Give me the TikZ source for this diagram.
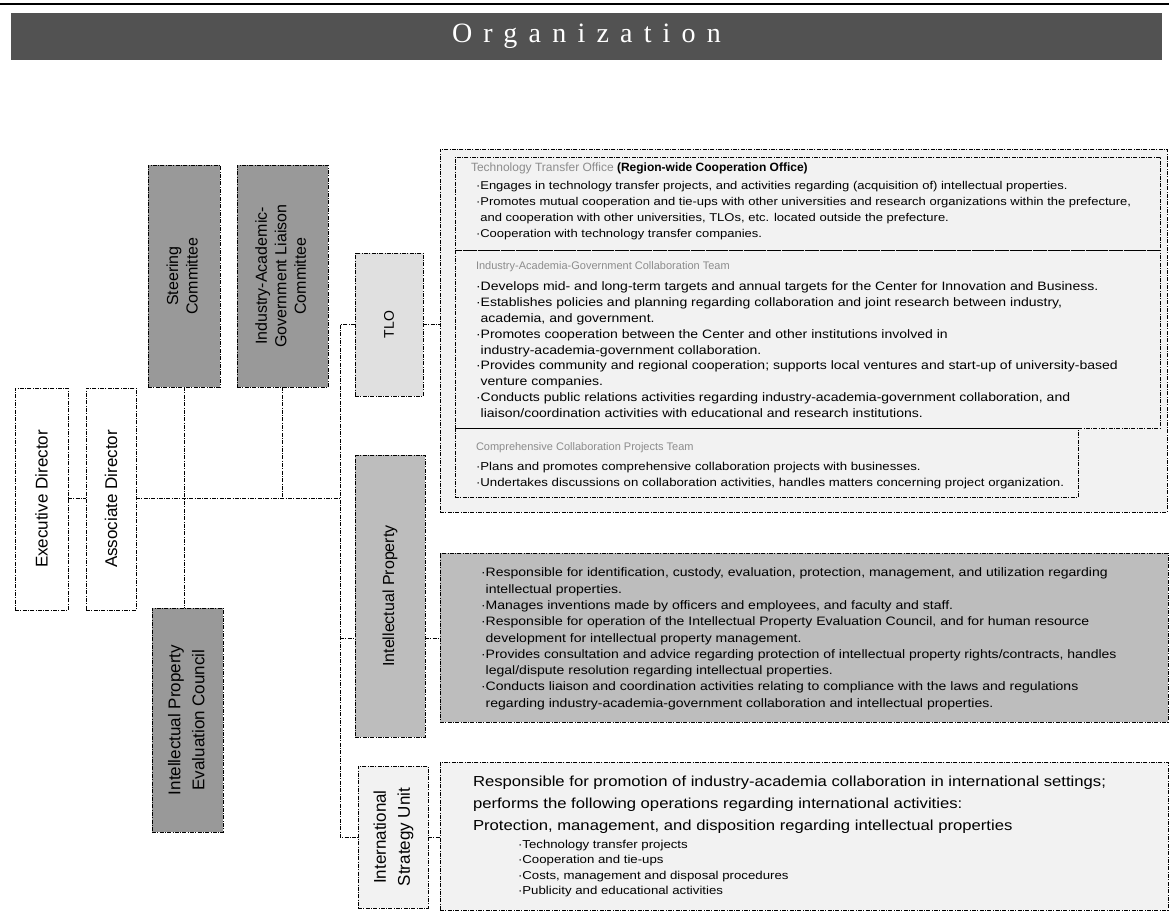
\documentclass[tikz,border=0pt]{standalone}
\usepackage{fontspec}
\usepackage{graphicx}
\setmainfont{Liberation Sans}
\newfontfamily\titlefont[LetterSpace=40]{Liberation Serif}
\newfontfamily\bodyfont[FakeStretch=1.15]{Liberation Sans}

\definecolor{bandgray}{gray}{0.32}
\definecolor{darkfill}{gray}{0.60}
\definecolor{midfill}{gray}{0.74}
\definecolor{lightfill}{gray}{0.88}
\definecolor{palefill}{gray}{0.95}
\definecolor{faint}{gray}{0.55}

\begin{document}
\begin{tikzpicture}[x=1pt,y=-1pt,
  every node/.style={inner sep=0pt,outer sep=0pt},
  frame/.style={draw=black,line width=0.8pt,dash pattern=on 4pt off 1.3pt on 1pt off 1.3pt},
  box/.style={frame,anchor=north west},
  link/.style={draw=black,line width=0.9pt,dash pattern=on 4pt off 1.3pt on 1pt off 1.3pt},
  vlabel/.style={font=\fontsize{16}{19.5}\selectfont},
  body/.style={anchor=north west,align=left,font=\bodyfont\fontsize{12.2}{16}\selectfont},
]
\useasboundingbox (0,0) rectangle (1169,913);

% heading band
\draw[line width=1.4pt] (0,4) -- (1169,4);
\node[fill=bandgray,minimum width=1151,minimum height=47,anchor=north west,
      text=white,font=\titlefont\fontsize{28}{30}\selectfont] (title) at (11,13) {Organization};

% management column
\node[box,fill=white,minimum width=53,minimum height=222,vlabel] (ed) at (15,388)
  {\rotatebox{90}{\fontsize{17}{19}\selectfont Executive Director}};
\node[box,fill=white,minimum width=50,minimum height=222,vlabel] (ad) at (86,388)
  {\rotatebox{90}{\fontsize{17}{19}\selectfont Associate Director}};
\node[box,fill=darkfill,minimum width=72,minimum height=222,vlabel] (steer) at (148,165)
  {\rotatebox{90}{\begin{tabular}{@{}c@{}}Steering\\Committee\end{tabular}}};
\node[box,fill=darkfill,minimum width=91,minimum height=222,vlabel] (liaison) at (237,165)
  {\rotatebox{90}{\begin{tabular}{@{}c@{}}Industry-Academic-\\Government Liaison\\Committee\end{tabular}}};
\node[box,fill=darkfill,minimum width=71,minimum height=224,font=\fontsize{17}{24}\selectfont] (ipec) at (152,608)
  {\rotatebox{90}{\begin{tabular}{@{}c@{}}Intellectual Property\\Evaluation Council\end{tabular}}};

% unit labels
\node[box,fill=lightfill,minimum width=68,minimum height=143,font=\fontsize{14}{16}\selectfont] (tlo) at (355,253)
  {\rotatebox{90}{TLO}};
\node[box,fill=midfill,minimum width=70,minimum height=282,font=\fontsize{16}{19}\selectfont] (iplab) at (355,455)
  {\rotatebox{90}{Intellectual Property}};
\node[box,fill=palefill,minimum width=70,minimum height=142,font=\fontsize{17}{24}\selectfont] (isulab) at (358,766)
  {\rotatebox{90}{\begin{tabular}{@{}c@{}}International\\Strategy Unit\end{tabular}}};

% TLO duties
\node[box,fill=palefill,minimum width=727,minimum height=363] (tlozone) at (440,149) {};
\node[box,minimum width=705,minimum height=93] (sec1) at (455,157) {};
\node[box,minimum width=705,minimum height=178] (sec2) at (455,250) {};
\node[box,minimum width=623,minimum height=69] (sec3) at (455,428) {};

\node[anchor=north west,font=\fontsize{12}{14}\selectfont] (sec1head) at (471,163)
  {\textcolor{faint}{Technology Transfer Office} \textbf{(Region-wide Cooperation Office)}};
\node[body,font=\bodyfont\fontsize{11.3}{16}\selectfont] (sec1text) at (476,181) {%
·Engages in technology transfer projects, and activities regarding (acquisition of) intellectual properties.\\
·Promotes mutual cooperation and tie-ups with other universities and research organizations within the prefecture,\\
\phantom{·}and cooperation with other universities, TLOs, etc. located outside the prefecture.\\
·Cooperation with technology transfer companies.};

\node[anchor=north west,font=\fontsize{11}{14}\selectfont,text=faint] (sec2head) at (476,262)
  {Industry-Academia-Government Collaboration Team};
\node[body,font=\bodyfont\fontsize{12.2}{15.8}\selectfont] (sec2text) at (476,282) {%
·Develops mid- and long-term targets and annual targets for the Center for Innovation and Business.\\
·Establishes policies and planning regarding collaboration and joint research between industry,\\
\phantom{·}academia, and government.\\
·Promotes cooperation between the Center and other institutions involved in\\
\phantom{·}industry-academia-government collaboration.\\
·Provides community and regional cooperation; supports local ventures and start-up of university-based\\
\phantom{·}venture companies.\\
·Conducts public relations activities regarding industry-academia-government collaboration, and\\
\phantom{·}liaison/coordination activities with educational and research institutions.};

\node[anchor=north west,font=\fontsize{11}{14}\selectfont,text=faint] (sec3head) at (476,443)
  {Comprehensive Collaboration Projects Team};
\node[body,font=\bodyfont\fontsize{11.5}{16}\selectfont] (sec3text) at (476,462) {%
·Plans and promotes comprehensive collaboration projects with businesses.\\
·Undertakes discussions on collaboration activities, handles matters concerning project organization.};

% intellectual property duties
\node[box,fill=midfill,minimum width=728,minimum height=169] (ipbox) at (440,553) {};
\node[body,font=\bodyfont\fontsize{12.2}{16.3}\selectfont] (iptext) at (481,568) {%
·Responsible for identification, custody, evaluation, protection, management, and utilization regarding\\
\phantom{·}intellectual properties.\\
·Manages inventions made by officers and employees, and faculty and staff.\\
·Responsible for operation of the Intellectual Property Evaluation Council, and for human resource\\
\phantom{·}development for intellectual property management.\\
·Provides consultation and advice regarding protection of intellectual property rights/contracts, handles\\
\phantom{·}legal/dispute resolution regarding intellectual properties.\\
·Conducts liaison and coordination activities relating to compliance with the laws and regulations\\
\phantom{·}regarding industry-academia-government collaboration and intellectual properties.};

% international strategy duties
\node[box,fill=palefill,minimum width=728,minimum height=148] (isubox) at (440,762) {};
\node[body,font=\bodyfont\fontsize{14.5}{22}\selectfont] (isutext) at (473,776) {%
Responsible for promotion of industry-academia collaboration in international settings;\\
performs the following operations regarding international activities:\\
Protection, management, and disposition regarding intellectual properties};
\node[body,font=\bodyfont\fontsize{11.5}{15.5}\selectfont] (isulist) at (518,840) {%
·Technology transfer projects\\
·Cooperation and tie-ups\\
·Costs, management and disposal procedures\\
·Publicity and educational activities};

% connectors
\coordinate (hy) at (0,498);
\coordinate (tk) at (340,0);
\coordinate (ipy) at (0,638);
\draw[link] (ed.east |- hy) -- (ad.west |- hy);
\draw[link] (ad.east |- hy) -- (tk |- hy);
\draw[link] (steer.south) -- (steer.south |- ipec.north);
\draw[link] (liaison.south) -- (liaison.south |- hy);
\draw[link] (tlo.west) -- (tlo.west -| tk) -- (isulab.west -| tk) -- (isulab.west);
\draw[link] (tk |- ipy) -- (iplab.west |- ipy);
\draw[link] (tlo.east) -- (tlo.east -| tlozone.west);
\draw[link] (iplab.east |- ipy) -- (ipbox.west |- ipy);
\draw[link] (isulab.east) -- (isulab.east -| isubox.west);
\end{tikzpicture}
\end{document}
